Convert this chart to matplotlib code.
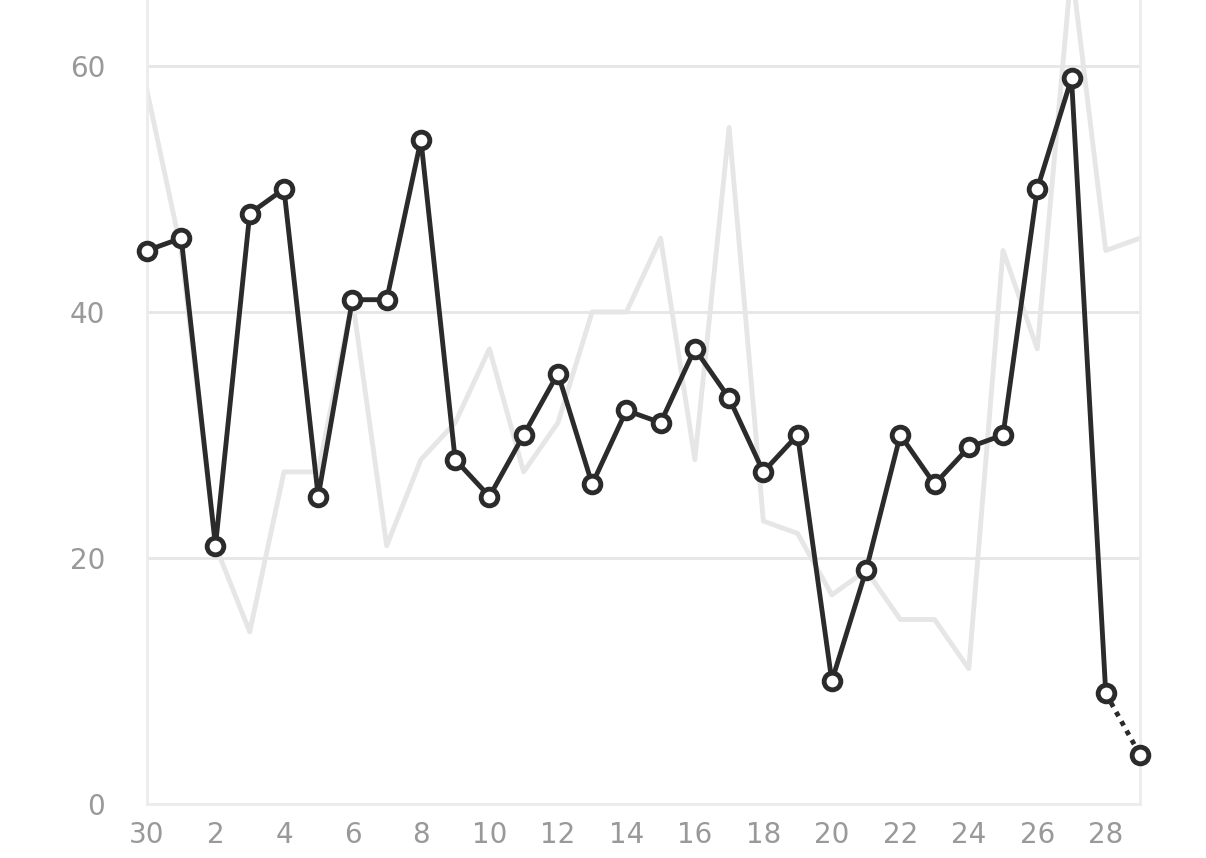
import matplotlib
matplotlib.use("Agg")
import matplotlib.pyplot as plt

days = [30] + list(range(1, 30))
current = [45, 46, 21, 48, 50, 25, 41, 41, 54, 28, 25, 30, 35, 26, 32, 31, 37, 33, 27, 30,
           10, 19, 30, 26, 29, 30, 50, 59, 9, 4]
previous = [58, 45, 21, 14, 27, 27, 41, 21, 28, 31, 37, 27, 31, 40, 40, 46, 28, 55, 23, 22,
            17, 19, 15, 15, 11, 45, 37, 68, 45, 46]
yticks = [0, 20, 40, 60]

fig = plt.figure(figsize=(12.06, 8.58), dpi=100)
ax = fig.add_axes([147/1206, 54/858, 993/1206, 804/858])
x = list(range(len(days)))
ax.plot(x, previous, color="#e6e6e6", lw=3.5, zorder=1, clip_on=True)
ax.plot(x[:-1], current[:-1], color="#2b2b2b", lw=3.5, zorder=3)
ax.plot(x[-2:], current[-2:], color="#2b2b2b", lw=3.5, ls=(0, (1, 1.2)), zorder=3)
ax.plot(x, current, ls="none", marker="o", ms=12, mfc="white", mec="#2b2b2b", mew=3.5, zorder=4, clip_on=False)
ax.set_xlim(0, len(days)-1)
ax.set_ylim(0, 804/12.3)
ax.set_yticks(yticks)
ax.set_xticks(x[::2])
ax.set_xticklabels([str(d) for d in days[::2]])
ax.grid(axis="y", color="#e6e6e6", lw=2)
ax.set_axisbelow(True)
for s in ["top"]:
    ax.spines[s].set_visible(False)
for s in ["left", "right", "bottom"]:
    ax.spines[s].set_color("#ececec")
    ax.spines[s].set_linewidth(2)
ax.tick_params(length=0, labelsize=20, labelcolor="#999999", pad=12)
ax.tick_params(axis="y", pad=30)
fig.savefig("out.png", dpi=100)
